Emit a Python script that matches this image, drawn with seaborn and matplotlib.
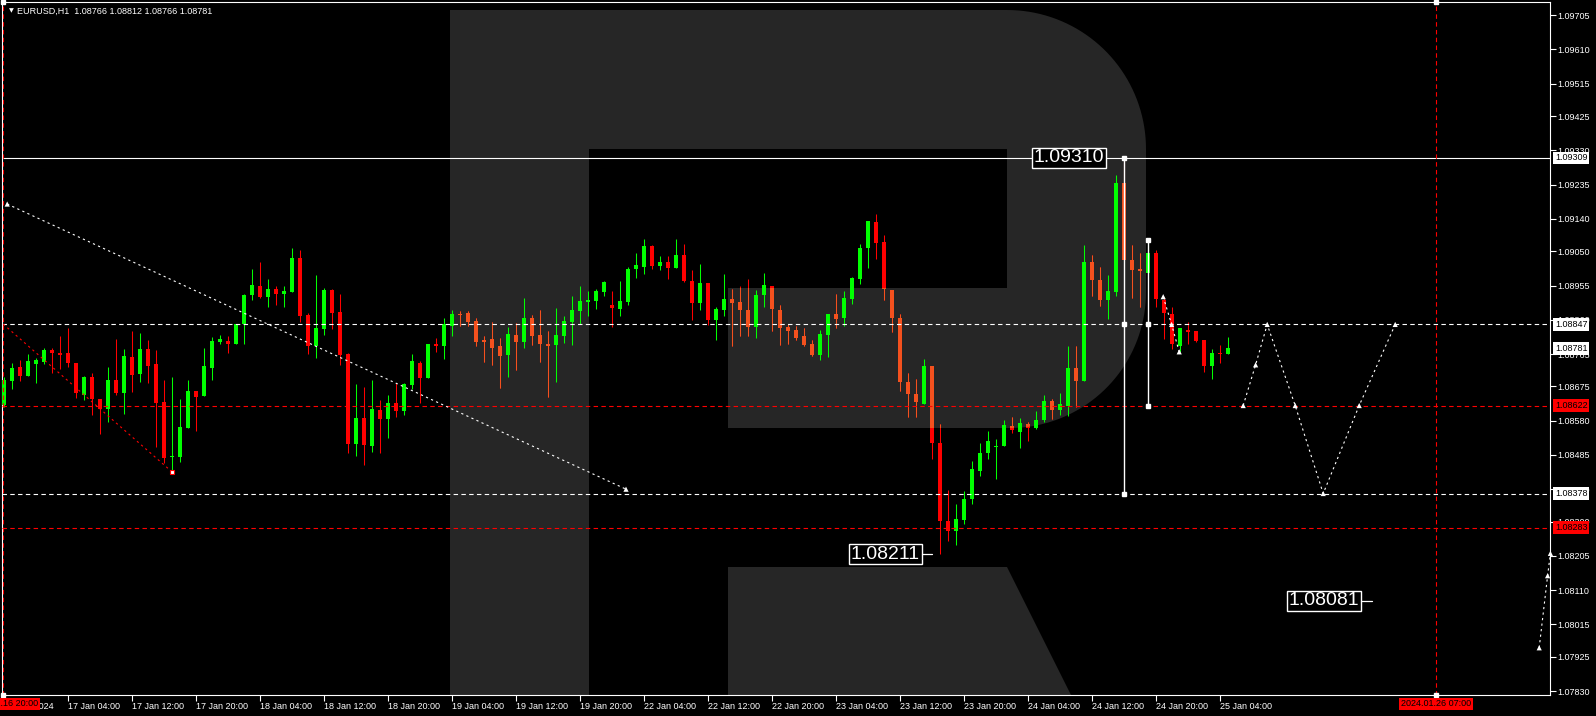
import numpy as np
import pandas as pd
import matplotlib
matplotlib.use("Agg")
import matplotlib.pyplot as plt
from matplotlib.path import Path
from matplotlib.patches import PathPatch
import seaborn as sns

# -------------------------------
# 1. Data (EURUSD H1)
# -------------------------------
opens = [1.08623, 1.08691, 1.08728, 1.08705, 1.08737, 1.08744, 1.08776, 1.08768, 1.08767, 1.08739,
         1.08652, 1.08701, 1.08639, 1.08613, 1.08692, 1.08658, 1.08757, 1.08710, 1.08779, 1.08736,
         1.08631, 1.08480, 1.08480, 1.08561, 1.08662, 1.08649, 1.08727, 1.08798, 1.08801, 1.08794,
         1.08849, 1.08929, 1.08954, 1.08924, 1.08945, 1.08932, 1.08937, 1.09031, 1.08873, 1.08788,
         1.08835, 1.08943, 1.08881, 1.08765, 1.08516, 1.08587, 1.08511, 1.08610, 1.08585, 1.08629,
         1.08608, 1.08679, 1.08740, 1.08699, 1.08793, 1.08788, 1.08843, 1.08874, 1.08880, 1.08856,
         1.08804, 1.08806, 1.08787, 1.08762, 1.08817, 1.08799, 1.08865, 1.08817, 1.08794, 1.08790,
         1.08816, 1.08854, 1.08884, 1.08910, 1.08913, 1.08937, 1.08901, 1.08890, 1.08910, 1.09001,
         1.09007, 1.09064, 1.09010, 1.09020, 1.09004, 1.09039, 1.08967, 1.08907, 1.08962, 1.08859,
         1.08887, 1.08917, 1.08909, 1.08887, 1.08840, 1.08928, 1.08953, 1.08887, 1.08840, 1.08831,
         1.08815, 1.08792, 1.08762, 1.08817, 1.08876, 1.08865, 1.08917, 1.08973, 1.09059, 1.09131,
         1.09075, 1.08943, 1.08864, 1.08686, 1.08653, 1.08627, 1.08731, 1.08517, 1.08301, 1.08274,
         1.08304, 1.08363, 1.08441, 1.08489, 1.08506, 1.08509, 1.08564, 1.08550, 1.08572, 1.08561,
         1.08581, 1.08636, 1.08611, 1.08622, 1.08725, 1.08689, 1.09019, 1.08969, 1.08916, 1.08938,
         1.09239, 1.09025, 1.09001, 1.08991, 1.09044, 1.08914, 1.08875, 1.08788, 1.08831, 1.08828,
         1.08803, 1.08731, 1.08769, 1.08766]
highs = [1.08700, 1.08739, 1.08748, 1.08764, 1.08755, 1.08781, 1.08783, 1.08815, 1.08838, 1.08739,
         1.08705, 1.08713, 1.08639, 1.08729, 1.08807, 1.08779, 1.08829, 1.08823, 1.08804, 1.08776,
         1.08693, 1.08701, 1.08640, 1.08693, 1.08662, 1.08783, 1.08811, 1.08817, 1.08815, 1.08847,
         1.08931, 1.09001, 1.09020, 1.08973, 1.08954, 1.08954, 1.09059, 1.09054, 1.08879, 1.08984,
         1.08949, 1.08945, 1.08931, 1.08767, 1.08682, 1.08673, 1.08693, 1.08637, 1.08651, 1.08684,
         1.08684, 1.08765, 1.08746, 1.08793, 1.08809, 1.08865, 1.08887, 1.08884, 1.08884, 1.08864,
         1.08815, 1.08853, 1.08809, 1.08840, 1.08850, 1.08920, 1.08872, 1.08887, 1.08829, 1.08892,
         1.08870, 1.08926, 1.08953, 1.08940, 1.08945, 1.08967, 1.08940, 1.08967, 1.09006, 1.09044,
         1.09084, 1.09067, 1.09037, 1.09037, 1.09084, 1.09070, 1.08998, 1.09014, 1.08962, 1.08895,
         1.08987, 1.08944, 1.08953, 1.08973, 1.08942, 1.08989, 1.08953, 1.08901, 1.08848, 1.08842,
         1.08837, 1.08804, 1.08831, 1.08876, 1.08931, 1.08939, 1.08978, 1.09070, 1.09134, 1.09153,
         1.09095, 1.08943, 1.08876, 1.08711, 1.08697, 1.08750, 1.08731, 1.08572, 1.08387, 1.08349,
         1.08385, 1.08467, 1.08517, 1.08551, 1.08530, 1.08581, 1.08589, 1.08587, 1.08577, 1.08606,
         1.08650, 1.08639, 1.08656, 1.08786, 1.08786, 1.09066, 1.09039, 1.09005, 1.08983, 1.09261,
         1.09310, 1.09066, 1.09044, 1.09072, 1.09054, 1.08924, 1.08894, 1.08836, 1.08855, 1.08828,
         1.08803, 1.08778, 1.08789, 1.08812]
lows = [1.08618, 1.08669, 1.08691, 1.08705, 1.08685, 1.08736, 1.08713, 1.08724, 1.08730, 1.08644,
        1.08638, 1.08597, 1.08544, 1.08577, 1.08652, 1.08599, 1.08660, 1.08688, 1.08685, 1.08506,
        1.08464, 1.08443, 1.08466, 1.08561, 1.08552, 1.08649, 1.08694, 1.08794, 1.08769, 1.08794,
        1.08794, 1.08916, 1.08921, 1.08896, 1.08902, 1.08896, 1.08937, 1.08853, 1.08766, 1.08755,
        1.08819, 1.08835, 1.08735, 1.08491, 1.08483, 1.08456, 1.08494, 1.08491, 1.08533, 1.08591,
        1.08596, 1.08668, 1.08630, 1.08699, 1.08771, 1.08752, 1.08816, 1.08843, 1.08843, 1.08788,
        1.08742, 1.08735, 1.08671, 1.08702, 1.08720, 1.08782, 1.08790, 1.08742, 1.08645, 1.08687,
        1.08796, 1.08790, 1.08848, 1.08870, 1.08890, 1.08926, 1.08840, 1.08870, 1.08901, 1.08976,
        1.08988, 1.09001, 1.08999, 1.08973, 1.09004, 1.08964, 1.08859, 1.08887, 1.08845, 1.08804,
        1.08870, 1.08787, 1.08816, 1.08816, 1.08810, 1.08895, 1.08828, 1.08790, 1.08792, 1.08804,
        1.08787, 1.08759, 1.08748, 1.08756, 1.08837, 1.08843, 1.08903, 1.08959, 1.09003, 1.09028,
        1.08915, 1.08827, 1.08663, 1.08591, 1.08591, 1.08625, 1.08474, 1.08211, 1.08246, 1.08235,
        1.08293, 1.08349, 1.08427, 1.08474, 1.08419, 1.08509, 1.08545, 1.08505, 1.08524, 1.08556,
        1.08575, 1.08584, 1.08595, 1.08594, 1.08619, 1.08689, 1.08925, 1.08899, 1.08863, 1.08927,
        1.09025, 1.08921, 1.08896, 1.08991, 1.08894, 1.08806, 1.08780, 1.08771, 1.08792, 1.08799,
        1.08714, 1.08695, 1.08739, 1.08766]
closes = [1.08693, 1.08725, 1.08705, 1.08746, 1.08748, 1.08776, 1.08769, 1.08762, 1.08739, 1.08656,
          1.08701, 1.08639, 1.08613, 1.08692, 1.08658, 1.08759, 1.08708, 1.08779, 1.08733, 1.08630,
          1.08477, 1.08482, 1.08562, 1.08662, 1.08647, 1.08732, 1.08801, 1.08807, 1.08794, 1.08847,
          1.08929, 1.08956, 1.08924, 1.08945, 1.08932, 1.08940, 1.09031, 1.08871, 1.08788, 1.08838,
          1.08943, 1.08880, 1.08763, 1.08516, 1.08587, 1.08513, 1.08612, 1.08585, 1.08629, 1.08608,
          1.08682, 1.08746, 1.08699, 1.08793, 1.08788, 1.08847, 1.08876, 1.08873, 1.08854, 1.08799,
          1.08799, 1.08782, 1.08760, 1.08820, 1.08799, 1.08865, 1.08816, 1.08793, 1.08788, 1.08817,
          1.08856, 1.08887, 1.08913, 1.08915, 1.08940, 1.08964, 1.08893, 1.08912, 1.09001, 1.09012,
          1.09064, 1.09010, 1.09020, 1.09004, 1.09039, 1.08968, 1.08907, 1.08962, 1.08859, 1.08890,
          1.08917, 1.08907, 1.08887, 1.08840, 1.08928, 1.08956, 1.08890, 1.08838, 1.08829, 1.08810,
          1.08790, 1.08762, 1.08820, 1.08876, 1.08862, 1.08920, 1.08976, 1.09059, 1.09134, 1.09074,
          1.08944, 1.08864, 1.08686, 1.08653, 1.08631, 1.08731, 1.08517, 1.08301, 1.08274, 1.08307,
          1.08363, 1.08445, 1.08489, 1.08523, 1.08509, 1.08567, 1.08553, 1.08573, 1.08561, 1.08581,
          1.08636, 1.08611, 1.08625, 1.08725, 1.08689, 1.09019, 1.08969, 1.08916, 1.08939, 1.09239,
          1.09025, 1.08997, 1.08995, 1.09044, 1.08917, 1.08878, 1.08792, 1.08836, 1.08827, 1.08802,
          1.08731, 1.08767, 1.08764, 1.08781]

tick_bars = list(range(0, 153, 8))
tick_labels = ["16 Jan 2024", "17 Jan 04:00", "17 Jan 12:00", "17 Jan 20:00", "18 Jan 04:00",
               "18 Jan 12:00", "18 Jan 20:00", "19 Jan 04:00", "19 Jan 12:00", "19 Jan 20:00",
               "22 Jan 04:00", "22 Jan 12:00", "22 Jan 20:00", "23 Jan 04:00", "23 Jan 12:00",
               "23 Jan 20:00", "24 Jan 04:00", "24 Jan 12:00", "24 Jan 20:00", "25 Jan 04:00"]
axis_prices = [1.09705, 1.09610, 1.09515, 1.09425, 1.09330, 1.09235, 1.09140, 1.09050, 1.08955,
               1.08860, 1.08765, 1.08675, 1.08580, 1.08485, 1.08390, 1.08300, 1.08205, 1.08110,
               1.08015, 1.07925, 1.07830]

# horizontal levels
level_solid = 1.09309
levels_white = [1.08847, 1.08378]
levels_red = [1.08622, 1.08283]
current_price = 1.08781

# drawn analysis objects
trend_bars = [0.4, 77.75]
trend_prices = [1.09181, 1.08390]
red_trend_bars = [-0.1, 20.85]
red_trend_prices = [1.08848, 1.08441]
proj_bars = [154.9, 156.45, 157.9, 161.4, 164.9, 169.4, 173.9]
proj_prices = [1.08622, 1.08735, 1.08847, 1.08622, 1.08378, 1.08622, 1.08847]
near_bars = [144.9, 145.95, 146.9]
near_prices = [1.08924, 1.08847, 1.08771]
tail_bars = [191.9, 192.95, 193.3]
tail_prices = [1.07950, 1.08150, 1.08212]
range_bars = [140, 143]
range_prices = [[1.09310, 1.08847, 1.08378], [1.09081, 1.08847, 1.08622]]
future_bar = 179
big_labels = [("1.09310", 137.5, 1.09309, None),
              ("1.08211", 114.5, 1.08209, 116.0),
              ("1.08081", 169.4, 1.08081, 171.0)]

# -------------------------------
# 2. Layout (pixel geometry of the terminal window)
# -------------------------------
W, H = 1596, 716
PX_X0, PX_BAR = 4, 8                # bar 0 centre, pixels per bar
P_AT_PX0, P_PER_PX = 1.09747, 2.774e-5


def to_data(xs, ys):
    xs, ys = np.asarray(xs, float), np.asarray(ys, float)
    return (xs - PX_X0) / PX_BAR, P_AT_PX0 - ys * P_PER_PX


GREEN, RED, ORANGE, GREY = "#00ff00", "#ff0000", "#f4511e", "#262626"

sns.set_theme(style="dark", rc={"axes.facecolor": "black", "figure.facecolor": "black",
                                "savefig.facecolor": "black"})
plt.rcParams["font.family"] = ["Liberation Sans", "DejaVu Sans"]

fig = plt.figure(figsize=(W / 100, H / 100), dpi=100)
ax = fig.add_axes([2 / W, 21 / H, 1548 / W, 693 / H])
ax.set_facecolor("black")
ax.grid(False)
xl, _ = to_data([2, 1550], [0, 0])
_, yl = to_data([0, 0], [695, 2])
ax.set_xlim(xl)
ax.set_ylim(yl)
for s in ax.spines.values():
    s.set_color("white")
    s.set_linewidth(0.8)

# -------------------------------
# 3. "R" watermark
# -------------------------------
def arc(cx, cy, r, a0, a1, n=40):
    t = np.radians(np.linspace(a0, a1, n))
    return list(zip(cx + r * np.cos(t), cy + r * np.sin(t)))


bowl = [(450, 10), (1007, 10)] + arc(1007, 149, 139, -90, 0) + [(1146, 292)] \
    + arc(1010, 292, 136, 0, 90) + [(728, 428), (728, 288), (1007, 288), (1007, 149),
                                    (589, 149), (589, 700), (450, 700), (450, 10)]
leg = [(728, 567), (1007, 567), (1073.5, 700), (728, 700), (728, 567)]
paths = []
for poly in (bowl, leg):
    px = np.array(poly)
    dx, dy = to_data(px[:, 0], px[:, 1])
    paths.append(Path(np.column_stack([dx, dy]), closed=True))
r_patch = PathPatch(Path.make_compound_path(*paths), facecolor=GREY, edgecolor="none", zorder=1)
ax.add_patch(r_patch)

# -------------------------------
# 4. Candles
# -------------------------------
df = pd.DataFrame({"open": opens, "high": highs, "low": lows, "close": closes})
df["bar"] = np.arange(len(df))
df["up"] = df["close"] >= df["open"]
df["body_lo"] = df[["open", "close"]].min(axis=1)
df["body_h"] = (df["close"] - df["open"]).abs().clip(lower=2.8e-5)

for up, col in [(True, GREEN), (False, RED)]:
    sub = df[df["up"] == up]
    ax.vlines(sub["bar"], sub["low"], sub["high"], color=col, lw=0.75, zorder=3)
    ax.bar(sub["bar"], sub["body_h"], bottom=sub["body_lo"], width=0.62, color=col,
           lw=0, zorder=3.1)

# red candles look orange where they sit on the watermark
sub = df[~df["up"]]
wl = ax.vlines(sub["bar"], sub["low"], sub["high"], color=ORANGE, lw=0.75, zorder=3.2)
wl.set_clip_path(r_patch)
for b in ax.bar(sub["bar"], sub["body_h"], bottom=sub["body_lo"], width=0.62, color=ORANGE,
                lw=0, zorder=3.3):
    b.set_clip_path(r_patch)

# -------------------------------
# 5. Levels and drawings
# -------------------------------
DASH = (0, (4, 3))
DOT = (0, (2, 3))
ax.axhline(level_solid, color="white", lw=0.8, zorder=4)
for p in levels_white:
    ax.axhline(p, color="white", lw=0.8, ls=DASH, zorder=4)
for p in levels_red:
    ax.axhline(p, color=RED, lw=0.8, ls=DASH, zorder=4)
ax.axvline(future_bar, color=RED, lw=0.8, ls=DASH, zorder=4)
ax.axvline(-0.1, color=RED, lw=0.8, ls=DASH, zorder=4)


def dotted(xs, ys, color="white", mark=True):
    sns.lineplot(x=xs, y=ys, ax=ax, color=color, lw=0.8, zorder=5, legend=False,
                 estimator=None, sort=False)
    ax.lines[-1].set_linestyle(DOT)
    if mark:
        sns.scatterplot(x=xs, y=ys, ax=ax, color="white", marker="^", s=14,
                        edgecolor="none", zorder=6, legend=False)


dotted(trend_bars, trend_prices)
dotted(red_trend_bars, red_trend_prices, color=RED, mark=False)
ax.plot(red_trend_bars[-1] + 0.15, lows[21] - 0.00005, marker="s", ms=3.5, mfc="white",
        mec=RED, mew=0.8, zorder=6)
dotted(proj_bars, proj_prices)
dotted(near_bars, near_prices)
dotted(tail_bars, tail_prices)
ax.collections[-1].set_clip_on(False)

for bx, pr in zip(range_bars, range_prices):
    ax.vlines(bx, min(pr), max(pr), color="white", lw=1.0, zorder=5)
    ax.plot([bx] * len(pr), pr, ls="none", marker="s", ms=3.5, color="white", zorder=6)

for bx in (future_bar, -0.1):
    ax.plot([bx, bx], list(yl), ls="none", marker="s", ms=2.5, color="white", zorder=6,
            clip_on=False)

# big price labels
for txt, bx, pr, tick_end in big_labels:
    ax.text(bx, pr, txt, ha="right", va="center", fontsize=14, color="white", zorder=7,
            bbox=dict(boxstyle="square,pad=0.08", fc="black", ec="white", lw=1.0))
    if tick_end is not None:
        ax.plot([bx + 0.25, tick_end], [pr, pr], color="white", lw=0.9, zorder=7)

# header
ax.text(9.5 / 1548, (695 - 11) / 693, "\u25bc", transform=ax.transAxes, fontsize=4.5,
        color="white", ha="center", va="center", family=["DejaVu Sans"], zorder=8)
ax.text(15 / 1548, (695 - 11) / 693, "EURUSD,H1  1.08766 1.08812 1.08766 1.08781",
        transform=ax.transAxes, fontsize=6.5, color="white", ha="left", va="center", zorder=8)

# -------------------------------
# 6. Axes ticks and boxed labels
# -------------------------------
ax.yaxis.tick_right()
ax.set_yticks(axis_prices)
ax.set_yticklabels([f"{p:.5f}" for p in axis_prices])
ax.tick_params(axis="y", colors="white", labelcolor="white", length=4, width=0.8, pad=1.5,
               labelsize=6.5, right=True, left=False)
ax.set_xticks(tick_bars)
ax.set_xticklabels(tick_labels, ha="left")
ax.tick_params(axis="x", colors="white", labelcolor="white", length=4, width=0.8, pad=1,
               labelsize=6.5, bottom=True)
for lab in ax.get_xticklabels():
    lab.set_x(lab.get_position()[0])
ax.set_xlabel("")
ax.set_ylabel("")

ytr = ax.get_yaxis_transform()
box_x = (1555 - 2) / 1548
for p in [level_solid] + levels_white + [current_price]:
    ax.text(box_x, p, f"{p:.5f}", transform=ytr, ha="left", va="center", fontsize=6.5,
            color="black", zorder=9, clip_on=False,
            bbox=dict(boxstyle="square,pad=0.2", fc="white", ec="white", lw=0))
for p in levels_red:
    ax.text(box_x, p, f"{p:.5f}", transform=ytr, ha="left", va="center", fontsize=6.5,
            color="black", zorder=9, clip_on=False,
            bbox=dict(boxstyle="square,pad=0.2", fc=RED, ec=RED, lw=0))

xtr = ax.get_xaxis_transform()
date_y = (695 - 704) / 693
ax.text(future_bar, date_y, "2024.01.26 07:00", transform=xtr, ha="center", va="center",
        fontsize=6.5, color="black", zorder=9, clip_on=False,
        bbox=dict(boxstyle="square,pad=0.2", fc=RED, ec=RED, lw=0))
ax.text(4.3, date_y, "2024.01.16 20:00", transform=xtr, ha="right", va="center",
        fontsize=6.5, color="black", zorder=9, clip_on=False,
        bbox=dict(boxstyle="square,pad=0.2", fc=RED, ec=RED, lw=0))

fig.savefig("out.png", dpi=100, facecolor="black")
